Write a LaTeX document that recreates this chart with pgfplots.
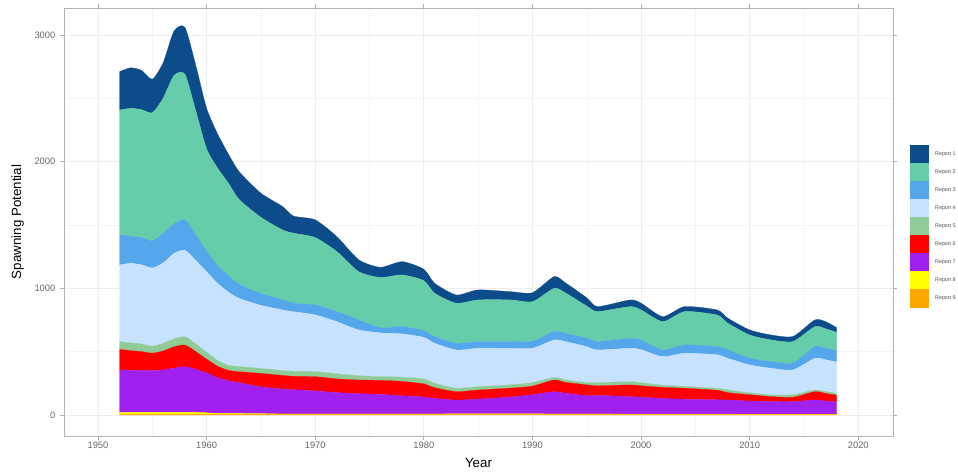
\documentclass[border=0pt]{standalone}
\usepackage{pgfplots}
\usepackage{pgfplotstable}
\pgfplotsset{compat=1.18}
\usepackage{fontspec}
\setmainfont{Liberation Sans}
\definecolor{cNv}{HTML}{0D4C8A}
\definecolor{cTl}{HTML}{66CDAA}
\definecolor{cMb}{HTML}{55A6EA}
\definecolor{cLb}{HTML}{C6E2FF}
\definecolor{cLg}{HTML}{8FCB96}
\definecolor{cRd}{HTML}{FF0000}
\definecolor{cPu}{HTML}{A020F0}
\definecolor{cYl}{HTML}{FFFF00}
\definecolor{cOr}{HTML}{FFA500}
\pgfplotstableread{
year or ye pu rd lg lb mb tl nv
1952 5 15 335 163 61 605 237 986 303
1953 5 15 332 156 62 627 213 1010 320
1954 5 15 330 150 60 625 215 1010 310
1955 5 15 330 138 54 618 215 1010 265
1956 5 15 335 150 60 635 230 1070 280
1957 5 15 350 168 62 675 235 1170 350
1958 5 15 361 171 66 682 240 1150 370
1959 5 15 340 140 60 660 200 980 360
1960 5 12 315 108 55 635 160 810 320
1961 4 8 283 90 45 610 140 770 270
1962 4 8 258 82 40 578 130 730 230
1963 4 8 243 87 40 538 110 670 220
1965 4 6 212 106 39 498 93 602 190
1967 3 5 197 107 38 479 79 552 185
1968 3 5 192 105 40 470 67 553 135
1970 3 5 182 112 40 448 78 532 140
1972 3 5 168 109 40 411 80 473 118
1974 3 5 160 108 34 361 79 381 94
1976 3 5 154 111 30 345 40 397 80
1978 3 5 144 113 33 342 57 408 105
1980 3 5 134 103 40 327 53 395 90
1981 3 5 122 85 35 316 52 342 79
1983 3 6 109 66 27 302 53 316 65
1985 3 6 116 72 26 303 53 329 79
1988 3 6 133 70 26 288 53 329 65
1990 3 6 151 68 27 271 54 314 71
1992 3 5 176 92 20 296 66 342 92
1993 3 5 164 86 20 302 65 320 80
1995 3 5 144 86 18 283 66 255 65
1996 3 5 147 75 25 258 66 237 39
1999 3 4 138 92 26 263 79 250 53
2000 3 4 133 90 25 260 75 239 53
2002 3 4 123 88 17 225 53 223 40
2004 3 4 117 87 15 261 65 264 39
2007 3 4 113 75 15 265 64 250 40
2008 3 4 111 58 21 250 66 210 40
2010 2 4 104 50 15 220 52 184 40
2012 2 4 99 40 13 210 53 171 39
2014 2 4 99 35 20 196 54 170 40
2016 2 4 112 66 13 250 92 158 53
2017 2 4 104 60 15 250 90 155 56
2018 2 4 98 52 14 248 90 144 38
}\data
\begin{document}
\begin{tikzpicture}
\useasboundingbox (0,0) rectangle (718.5pt,355.5pt);
\begin{axis}[
  at={(48pt,28.5pt)}, anchor=south west,
  width=621.75pt, height=321pt, scale only axis,
  xmin=1946.87, xmax=2023.2, ymin=-166, ymax=3212,
  stack plots=y, area style, axis on top=false,
  xtick={1950,1960,...,2020}, ytick={0,1000,2000,3000},
  minor xtick={1945,1955,...,2025}, minor ytick={500,1500,2500},
  grid=both,
  major grid style={color=black!7, line width=0.5pt},
  minor grid style={color=black!4, line width=0.3pt},
  axis line style={color=black!30, line width=0.6pt},
  tick align=outside, major tick length=3pt, minor tick length=0pt,
  tick style={color=black!30, line width=0.5pt},
  tick label style={font=\fontsize{7}{8}\selectfont, color=black!60},
  xticklabel style={yshift=2pt},
  /pgf/number format/.cd, 1000 sep={}, assume math mode=true, /pgfplots/.cd,
  xlabel={Year}, ylabel={Spawning Potential},
  label style={font=\fontsize{10}{12}\selectfont, color=black!80},
  every axis x label/.style={at={(axis description cs:0.5,-0.063)}, anchor=center},
  every axis y label/.style={at={(axis description cs:-0.056,0.5)}, rotate=90, anchor=center},
  reverse legend,
  legend cell align=left,
  legend image code/.code={\fill[#1] (0pt,-6.65pt) rectangle (13.5pt,6.65pt);},
  legend style={at={(1,0.4895)}, anchor=west, xshift=12.75pt, draw=none, fill=none,
    inner sep=0pt, row sep=0pt, column sep=3pt,
    font=\fontsize{4}{5}\selectfont, text=black!70},
  every axis plot/.append style={smooth, tension=0.4, line width=0.2pt},
]
\addplot[fill=cOr, draw=cOr] table[x=year,y=or] {\data} \closedcycle;
\addlegendentry{Report 9}
\addplot[fill=cYl, draw=cYl] table[x=year,y=ye] {\data} \closedcycle;
\addlegendentry{Report 8}
\addplot[fill=cPu, draw=cPu] table[x=year,y=pu] {\data} \closedcycle;
\addlegendentry{Report 7}
\addplot[fill=cRd, draw=cRd] table[x=year,y=rd] {\data} \closedcycle;
\addlegendentry{Report 6}
\addplot[fill=cLg, draw=cLg] table[x=year,y=lg] {\data} \closedcycle;
\addlegendentry{Report 5}
\addplot[fill=cLb, draw=cLb] table[x=year,y=lb] {\data} \closedcycle;
\addlegendentry{Report 4}
\addplot[fill=cMb, draw=cMb] table[x=year,y=mb] {\data} \closedcycle;
\addlegendentry{Report 3}
\addplot[fill=cTl, draw=cTl] table[x=year,y=tl] {\data} \closedcycle;
\addlegendentry{Report 2}
\addplot[fill=cNv, draw=cNv] table[x=year,y=nv] {\data} \closedcycle;
\addlegendentry{Report 1}
\end{axis}
\end{tikzpicture}
\end{document}
